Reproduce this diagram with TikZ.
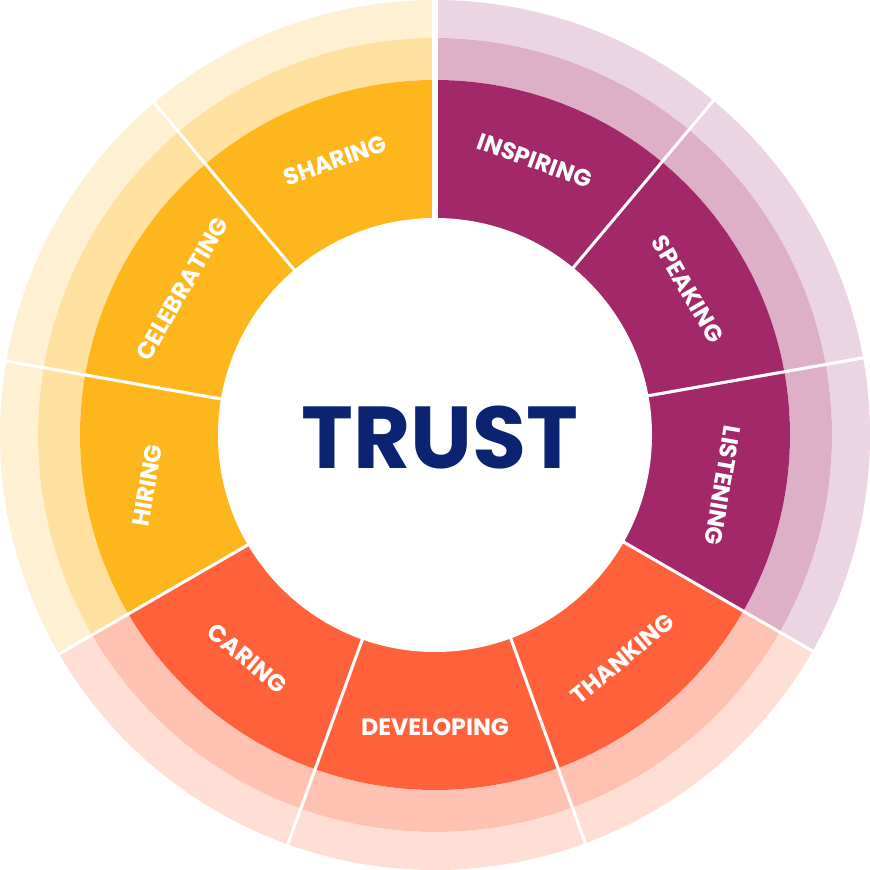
\documentclass[tikz,border=0pt]{standalone}
\usepackage{fontspec}
\setmainfont{Poppins}
\usetikzlibrary{calc}
\definecolor{plum}{HTML}{A3286A}
\definecolor{plumB}{HTML}{DEB0C8}
\definecolor{plumC}{HTML}{EBD5E2}
\definecolor{gold}{HTML}{FDB71D}
\definecolor{goldB}{HTML}{FEE0A0}
\definecolor{goldC}{HTML}{FEF0D2}
\definecolor{coral}{HTML}{FF623B}
\definecolor{coralB}{HTML}{FFC2B2}
\definecolor{coralC}{HTML}{FFDED5}
\definecolor{navy}{HTML}{0B2370}
\begin{document}
\begin{tikzpicture}[x=0.02cm,y=0.02cm,
    seglabel/.style={text=white,font=\bfseries\fontsize{13.5}{13.5}\selectfont},
    gap/.style={white,line width=3.6pt}]
    \useasboundingbox (0,0) rectangle (870,870);
    \coordinate (O) at (435,435);
    % segments: start angle / colour / label / label rotation
    \foreach \a/\c/\t/\r in {50/plum/INSPIRING/-20, 10/plum/SPEAKING/-60,
        -30/plum/LISTENING/-100, -70/coral/THANKING/40, -110/coral/DEVELOPING/0,
        -150/coral/CARING/-40, 170/gold/HIRING/80, 130/gold/CELEBRATING/60,
        90/gold/SHARING/20}{
        \fill [\c C] ($(O)+(\a:435)$) arc (\a:\a+40:435) -- ($(O)+(\a+40:397)$) arc (\a+40:\a:397) -- cycle;
        \fill [\c B] ($(O)+(\a:397)$) arc (\a:\a+40:397) -- ($(O)+(\a+40:355)$) arc (\a+40:\a:355) -- cycle;
        \fill [\c] ($(O)+(\a:355)$) arc (\a:\a+40:355) -- ($(O)+(\a+40:215)$) arc (\a+40:\a:215) -- cycle;
        \node [seglabel,rotate=\r] (l\t) at ($(O)+(\a+20:292)$) {\t};
        \draw [gap] ($(O)+(\a:210)$) -- ($(O)+(\a:440)$);
    }
    \fill [white] (O) circle (217);
    \node [text=navy,font=\bfseries\fontsize{50}{50}\selectfont] (trust) at (440,432) {TRUST};
\end{tikzpicture}
\end{document}
